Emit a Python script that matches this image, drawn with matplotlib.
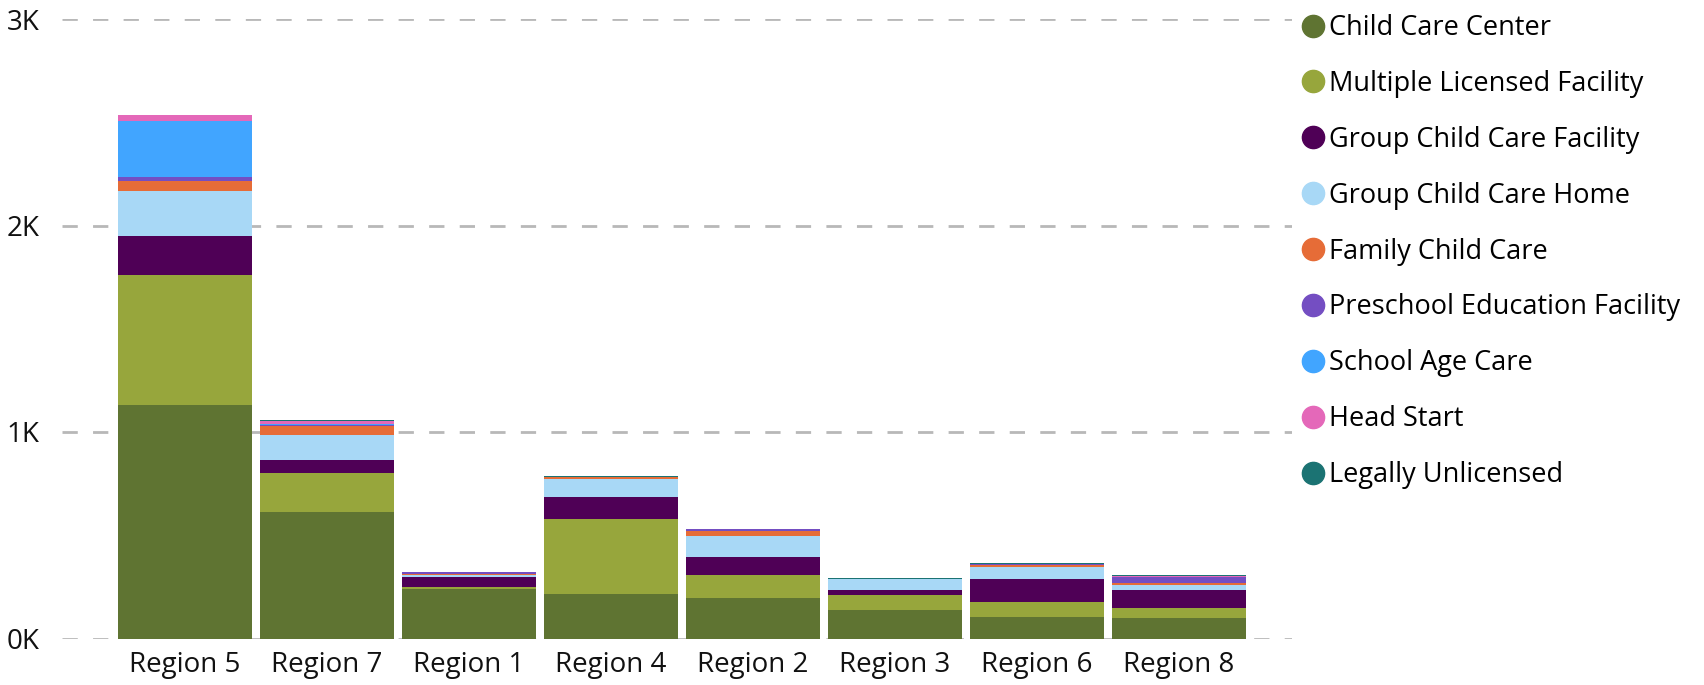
import matplotlib
matplotlib.use("Agg")
from matplotlib import pyplot as plt
from matplotlib.lines import Line2D
from matplotlib.ticker import FuncFormatter
import numpy as np

plt.rcParams["font.family"] = ["Open Sans", "DejaVu Sans"]
plt.rcParams["lines.scale_dashes"] = False

regions = ["Region 5", "Region 7", "Region 1", "Region 4",
           "Region 2", "Region 3", "Region 6", "Region 8"]

# counts per facility type, bottom of the stack first
child_care_center = [1131, 613, 240, 215, 196, 138, 104, 99]
multiple_licensed = [629, 188, 10, 363, 111, 73, 73, 49]
group_cc_facility = [189, 63, 48, 107, 87, 24, 111, 87]
group_cc_home = [218, 121, 11, 87, 102, 53, 58, 24]
family_child_care = [48, 45, 5, 11, 24, 0, 11, 10]
preschool_education = [20, 2, 8, 0, 10, 0, 5, 29]
school_age_care = [270, 6, 0, 0, 0, 0, 0, 0]
head_start = [30, 14, 0, 0, 0, 0, 0, 5]
legally_unlicensed = [0, 5, 0, 5, 0, 5, 5, 4]

series = [
    ("Child Care Center", child_care_center, "#5F7432"),
    ("Multiple Licensed Facility", multiple_licensed, "#97A63C"),
    ("Group Child Care Facility", group_cc_facility, "#4F0056"),
    ("Group Child Care Home", group_cc_home, "#A8D8F6"),
    ("Family Child Care", family_child_care, "#E66C37"),
    ("Preschool Education Facility", preschool_education, "#744EC2"),
    ("School Age Care", school_age_care, "#41A5FF"),
    ("Head Start", head_start, "#E468B9"),
    ("Legally Unlicensed", legally_unlicensed, "#1B7373"),
]

W, H = 1704, 685
fig = plt.figure(figsize=(W / 100, H / 100), dpi=100)
ax = fig.add_axes([62 / W, 46.5 / H, (1292 - 62) / W, (638.5 - 19) / H])

x = np.arange(len(regions))
bottom = np.zeros(len(regions))
for name, vals, color in series:
    vals = np.array(vals, dtype=float)
    ax.bar(x, vals, bottom=bottom, width=0.944, color=color, zorder=3, linewidth=0)
    bottom += vals

ax.set_xlim(-0.866, 7.796)
ax.set_ylim(0, 3000)
ax.set_yticks([0, 1000, 2000, 3000])
ax.yaxis.set_major_formatter(FuncFormatter(lambda v, p: f"{int(v / 1000)}K"))
ax.set_xticks(x)
ax.set_xticklabels(regions)
ax.tick_params(axis="both", length=0, labelsize=20, colors="#111111")
ax.tick_params(axis="y", pad=16)
ax.tick_params(axis="x", pad=9)
ax.grid(axis="y", color="#B8B8B8", linewidth=2, linestyle=(0, (11, 11)), zorder=0)
ax.set_axisbelow(True)
for s in ax.spines.values():
    s.set_visible(False)

handles = [Line2D([], [], marker="o", linestyle="none", markersize=16,
                  markerfacecolor=c, markeredgecolor=c) for _, _, c in series]
fig.legend(handles, [n for n, _, _ in series], loc="upper left",
           bbox_to_anchor=(1302 / W, 1 - 14 / H), frameon=False, fontsize=19.5,
           handlelength=0.8, handletextpad=0.2, labelspacing=1.03,
           borderaxespad=0, borderpad=0)

fig.savefig("out.png", dpi=100)
